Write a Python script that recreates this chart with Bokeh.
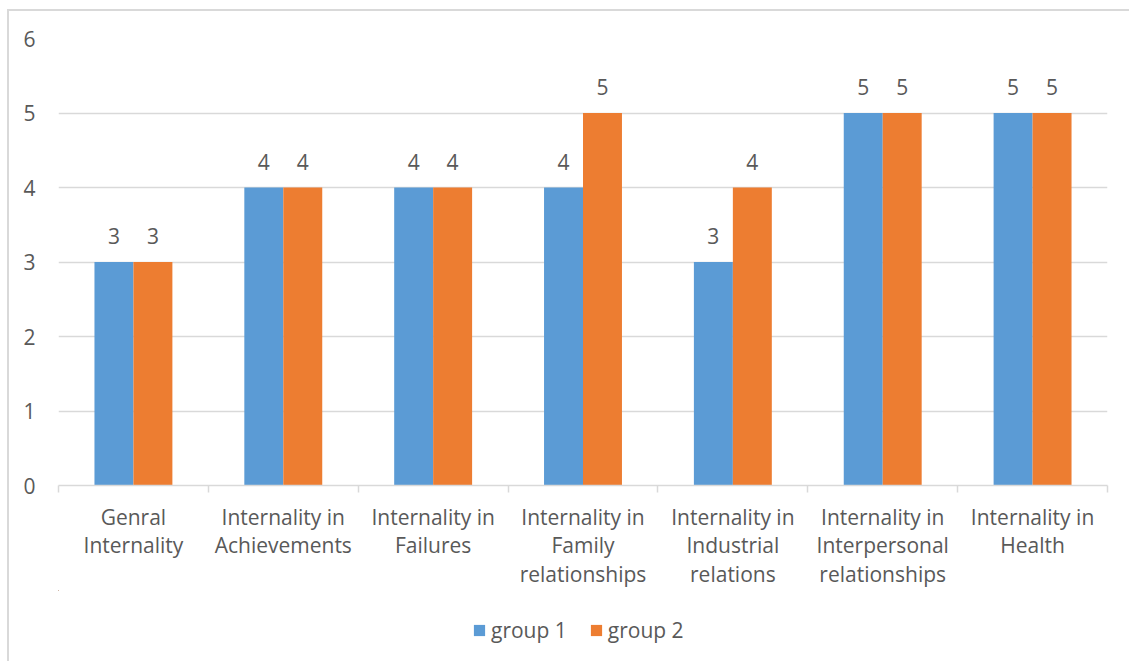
from bokeh.plotting import figure
from bokeh.layouts import column
from bokeh.models import (Range1d, FixedTicker, ColumnDataSource, LabelSet,
                          Legend, LegendItem)
from bokeh.core.properties import value
from bokeh.embed import file_html
from bokeh.resources import INLINE

categories = ["Genral\nInternality",
              "Internality in\nAchievements",
              "Internality in\nFailures",
              "Internality in\nFamily\nrelationships",
              "Internality in\nIndustrial\nrelations",
              "Internality in\nInterpersonal\nrelationships",
              "Internality in\nHealth"]
group1 = [3, 4, 4, 4, 3, 5, 5]
group2 = [3, 4, 4, 5, 4, 5, 5]
series_names = ["group 1", "group 2"]
y_ticks = [0, 1, 2, 3, 4, 5, 6]

BLUE = "#5B9BD5"
ORANGE = "#ED7D31"
GRID = "#d9d9d9"
TXT = "#595959"
FONT = "Open Sans"

n = len(categories)
centers = [i + 0.5 for i in range(n)]
bar_w = 0.26
off = bar_w / 2

src1 = ColumnDataSource(dict(x=[c - off for c in centers], top=group1,
                             label=[str(v) for v in group1]))
src2 = ColumnDataSource(dict(x=[c + off for c in centers], top=group2,
                             label=[str(v) for v in group2]))

p = figure(width=1120, height=579, output_backend="svg", toolbar_location=None,
           x_range=Range1d(0, n), y_range=Range1d(0, max(y_ticks)),
           min_border_left=49, min_border_right=22, min_border_top=27,
           min_border_bottom=0)
p.outline_line_color = None
p.background_fill_color = "white"
p.border_fill_color = "white"

r1 = p.vbar(x="x", top="top", width=bar_w, source=src1, fill_color=BLUE, line_color=None)
r2 = p.vbar(x="x", top="top", width=bar_w, source=src2, fill_color=ORANGE, line_color=None)

for s in (src1, src2):
    p.add_layout(LabelSet(x="x", y="top", text="label", source=s, text_align="center",
                          text_baseline="alphabetic", y_offset=18,
                          text_font_size="21px", text_color=TXT, text_font=value(FONT)))

# x axis
xa = p.xaxis[0]
xa.ticker = FixedTicker(ticks=centers, minor_ticks=list(range(n + 1)))
xa.major_label_overrides = {c: lab for c, lab in zip(centers, categories)}
xa.axis_line_color = GRID
xa.axis_line_width = 1.5
xa.major_tick_line_color = None
xa.minor_tick_line_color = GRID
xa.minor_tick_line_width = 1.5
xa.minor_tick_in = 0
xa.minor_tick_out = 7
xa.major_label_standoff = 10
xa.major_label_text_font_size = "21px"
xa.major_label_text_color = TXT
xa.major_label_text_font = FONT
xa.major_label_text_line_height = 1.02
p.xgrid.visible = False

# y axis
ya = p.yaxis[0]
ya.ticker = FixedTicker(ticks=y_ticks)
ya.axis_line_color = None
ya.major_tick_line_color = None
ya.minor_tick_line_color = None
ya.major_label_standoff = 17
ya.major_label_text_font_size = "21px"
ya.major_label_text_color = TXT
ya.major_label_text_font = FONT
p.ygrid.grid_line_color = GRID
p.ygrid.grid_line_width = 1.5

# legend strip below the chart (proxy glyphs kept far outside its view)
q = figure(width=1120, height=71, output_backend="svg", toolbar_location=None,
           x_range=Range1d(1000, 1000 + n), y_range=Range1d(-10, -9),
           min_border_left=49, min_border_right=22, min_border_top=0, min_border_bottom=0)
q.axis.visible = False
q.grid.visible = False
q.outline_line_color = None
q.border_fill_color = "white"
q.background_fill_color = "white"
k1 = q.vbar(x="x", top="top", width=bar_w, source=src1, fill_color=BLUE, line_color=None)
k2 = q.vbar(x="x", top="top", width=bar_w, source=src2, fill_color=ORANGE, line_color=None)
legend = Legend(items=[LegendItem(label=series_names[0], renderers=[k1]),
                       LegendItem(label=series_names[1], renderers=[k2])],
                orientation="horizontal", location=(414, 17),
                label_text_font_size="21px", label_text_color=TXT, label_text_font=FONT,
                glyph_width=14, glyph_height=14, label_standoff=5, spacing=22,
                border_line_color=None, background_fill_alpha=0, padding=0, margin=0)
q.add_layout(legend, "center")

layout = column(p, q, spacing=0)
layout.styles = {"margin-left": "7px", "margin-top": "9px",
                 "border-left": "2px solid #d9d9d9", "border-top": "2px solid #d9d9d9"}

open("out.html", "w").write(file_html(layout, INLINE))
